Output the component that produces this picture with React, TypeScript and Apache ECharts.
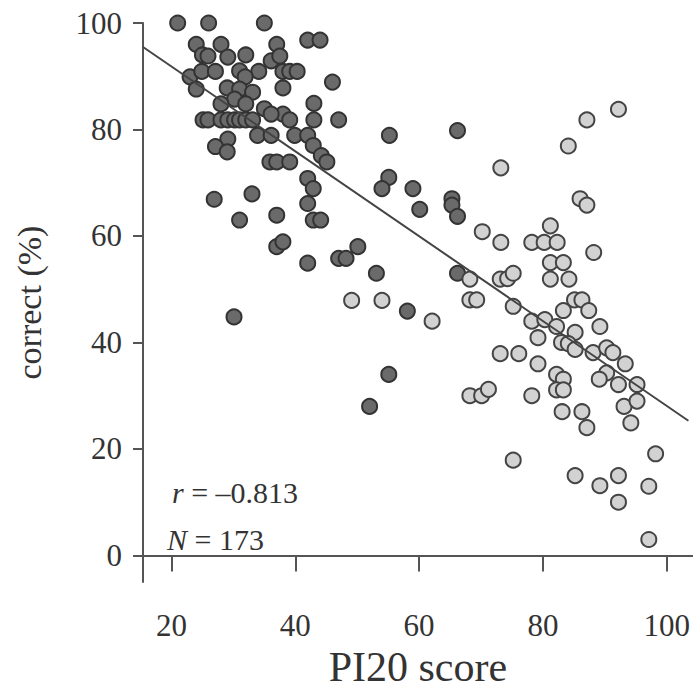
import React, { useEffect, useRef } from "react";
import * as echarts from "echarts";

const xTicks = [20, 40, 60, 80, 100];
const yTicks = [0, 20, 40, 60, 80, 100];

const darkPoints: [number, number][] = [
  [21, 100], [26, 100], [35, 100], [42, 96.8], [44, 96.8], [24, 96], [28, 96], [37, 96],
  [25, 94], [25.9, 93.8], [29.1, 93.6], [32, 94], [36.1, 92.9], [37.5, 93.8], [23, 89.9], [24.9, 90.9],
  [27.1, 90.9], [31, 91], [34.1, 90.9], [38, 90.9], [39.1, 90.9], [40.3, 90.9], [31.9, 89.9],
  [24, 87.6], [38, 87.8], [46, 88.9], [29, 87.8], [31, 87.6], [33.1, 87], [30.2, 85.7],
  [28, 84.8], [32, 84.8], [43, 84.9], [35, 83.9], [38, 82.9], [36.1, 82.9],
  [25.1, 81.8], [25.9, 81.8], [28, 81.8], [29.1, 81.8], [30.2, 81.8], [31, 81.8], [32, 81.8],
  [33.1, 81.8], [39.1, 81.8], [43, 81.8], [47, 81.8],
  [55.2, 78.9], [33.9, 78.9], [36.1, 78.9], [39.9, 78.9], [42, 78.9], [42.9, 77], [29.1, 78.2],
  [27.1, 76.8], [29, 75.8], [44.2, 75.1], [45.1, 73.9], [35.9, 73.9], [37, 73.9], [39.1, 73.9],
  [42, 70.8], [42.9, 68.9], [42, 66.1], [42.9, 63], [44.1, 63], [55.1, 71], [54, 68.9],
  [59, 68.9], [26.9, 66.9], [33, 67.9], [31, 63], [37, 63.9], [37, 58], [38, 58.9],
  [50.1, 58], [42, 54.9], [47, 55.8], [48.2, 55.8], [53.1, 53], [58.1, 45.9], [30.1, 44.8],
  [55.1, 34], [52, 28], [66.2, 79.8], [60.1, 65], [65.3, 67], [65.3, 65.8], [66.2, 63.7], [66.2, 53],
];

const lightPoints: [number, number][] = [
  [49.1, 47.9], [54, 47.9], [92.2, 83.8], [87.1, 81.8], [84.1, 76.9], [73.2, 72.8], [86, 67],
  [87.1, 65.8], [81.2, 61.9], [78.2, 58.8], [80.2, 58.8], [82.3, 58.8], [70.2, 60.8], [73.2, 58.8],
  [88.2, 56.9], [81.2, 55], [83.3, 55], [81.2, 51.9], [84.2, 51.9], [68.2, 51.9], [73.1, 51.9],
  [74.3, 52], [75.2, 53], [68.2, 48], [69.3, 48], [75.2, 46.8], [62.1, 44], [85.1, 48], [86.3, 48],
  [83.3, 46], [87.4, 46], [78.2, 44], [80.3, 44.3], [82.2, 43], [85.2, 41.9], [89.2, 43],
  [79.2, 40.9], [83, 40], [84.1, 39.8], [85.2, 38.7], [88.1, 38.1], [90.3, 39], [91.3, 38.1],
  [93.3, 36], [73.1, 37.9], [76.1, 37.9], [79.2, 36], [82.2, 34], [83.3, 33.1], [90.3, 34.3],
  [89.1, 33.1], [92.2, 32.1], [95.2, 32.1], [82.2, 31.1], [83.3, 31.1], [68.2, 30], [70.1, 30],
  [71.2, 31.2], [78.2, 30], [93.1, 28], [95.2, 29], [83.1, 27], [86.3, 27], [87.1, 24], [94.2, 24.9],
  [75.2, 17.9], [98.2, 19.1], [85.2, 15], [89.2, 13.1], [92.2, 15], [92.2, 10], [97.1, 13], [97.1, 3],
];

const fitLine: [number, number][] = [
  [15.4, 95.5],
  [103.5, 25.3],
];

const FONT = "'Liberation Serif', 'DejaVu Serif', serif";

export default function App() {
  const ref = useRef<HTMLDivElement>(null);
  useEffect(() => {
    if (!ref.current) return;
    const chart = echarts.init(ref.current, undefined, { renderer: "svg" });
    const axisColor = "#555";
    const rich = { i: { fontStyle: "italic", fontFamily: FONT, fontSize: 30, fill: "#333" } };
    chart.setOption({
      animation: false,
      backgroundColor: "#fff",
      grid: { left: 143, right: 0, top: 23, bottom: 109 },
      xAxis: {
        type: "value",
        min: 15.4,
        max: 104.2,
        name: "PI20 score",
        nameLocation: "middle",
        nameGap: 60,
        nameTextStyle: { fontFamily: FONT, fontSize: 42, color: "#333" },
        splitLine: { show: false },
        axisLine: { lineStyle: { color: axisColor, width: 2 } },
        axisTick: { show: true, length: 16, lineStyle: { color: axisColor, width: 2 }, customValues: xTicks },
        axisLabel: { fontFamily: FONT, fontSize: 31, color: "#333", margin: 28, customValues: xTicks },
      },
      yAxis: {
        type: "value",
        min: -5,
        max: 100,
        name: "correct (%)",
        nameLocation: "middle",
        nameGap: 97,
        nameTextStyle: { fontFamily: FONT, fontSize: 34, color: "#333" },
        splitLine: { show: false },
        axisLine: { lineStyle: { color: axisColor, width: 2 } },
        axisTick: { show: true, length: 10, lineStyle: { color: axisColor, width: 2 }, customValues: yTicks },
        axisLabel: { fontFamily: FONT, fontSize: 31, color: "#333", margin: 21, customValues: yTicks },
      },
      series: [
        {
          type: "scatter",
          data: darkPoints,
          symbolSize: 15,
          itemStyle: { color: "#6a6a6a", borderColor: "#333", borderWidth: 2, opacity: 1 },
          z: 2,
        },
        {
          type: "scatter",
          data: lightPoints,
          symbolSize: 15,
          itemStyle: { color: "#d2d2d2", borderColor: "#444", borderWidth: 2, opacity: 1 },
          z: 2,
        },
        {
          type: "line",
          data: fitLine,
          symbol: "none",
          lineStyle: { color: "#444", width: 2 },
          z: 3,
        },
      ],
      graphic: [
        {
          type: "text",
          left: 172,
          top: 477,
          style: {
            text: "{i|r} = \u20130.813",
            fontFamily: FONT,
            fontSize: 30,
            fill: "#333",
            rich,
          },
        },
        {
          type: "text",
          left: 167,
          top: 524,
          style: {
            text: "{i|N} = 173",
            fontFamily: FONT,
            fontSize: 30,
            fill: "#333",
            rich,
          },
        },
      ],
    });
    return () => chart.dispose();
  }, []);
  return (
    <div
      ref={ref}
      style={{ position: "fixed", left: 0, top: 0, width: 693, height: 693 }}
    />
  );
}
